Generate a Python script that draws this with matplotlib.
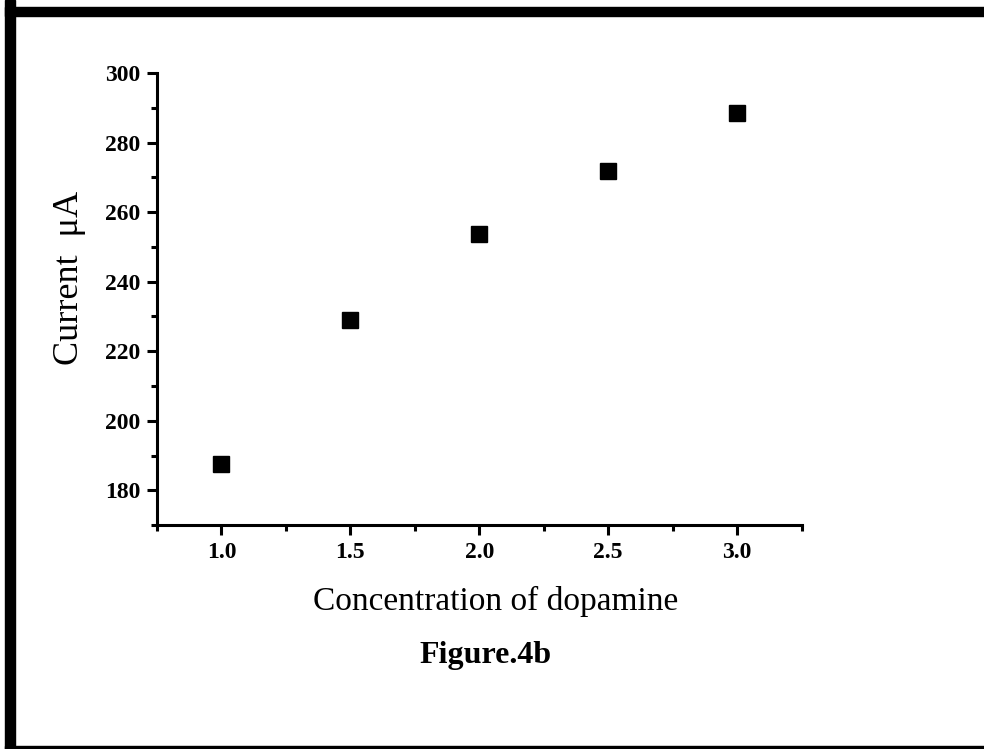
#!/usr/bin/env python3
"""
Current vs dopamine concentration (Figure.4b)
"""
import matplotlib
matplotlib.use("Agg")
import matplotlib.pyplot as plt
from matplotlib.patches import Rectangle
from matplotlib.ticker import MultipleLocator

# %% data
concentration = [1.0, 1.5, 2.0, 2.5, 3.0]
current_ua = [187.6, 229.0, 253.8, 271.7, 288.6]

xtick_labels = ["1.0", "1.5", "2.0", "2.5", "3.0"]
ytick_values = [180, 200, 220, 240, 260, 280, 300]

# %% figure
plt.rcParams["font.family"] = ["Liberation Serif", "DejaVu Serif"]

fig = plt.figure(figsize=(9.84, 7.49), dpi=100)
ax = fig.add_axes([0.1596, 0.299, 0.655, 0.6035])

ax.plot(concentration, current_ua, linestyle="none", marker="s",
        markersize=12, color="black")

ax.set_xlim(0.75, 3.25)
ax.set_ylim(170, 300)
ax.set_xticks(concentration)
ax.set_xticklabels(xtick_labels)
ax.set_yticks(ytick_values)
ax.xaxis.set_minor_locator(MultipleLocator(0.25))
ax.yaxis.set_minor_locator(MultipleLocator(10))

for spine in ["top", "right"]:
    ax.spines[spine].set_visible(False)
for spine in ["left", "bottom"]:
    ax.spines[spine].set_linewidth(2.2)

ax.tick_params(which="major", direction="out", length=7, width=2.2,
               labelsize=17, pad=5)
ax.tick_params(which="minor", direction="out", length=4, width=2.2)
for lab in ax.get_xticklabels() + ax.get_yticklabels():
    lab.set_fontweight("bold")

# y label, placed by hand
fig.text(70 / 984, 1 - 278 / 749, "Current  \u03bcA", rotation=90,
         ha="center", va="center", fontsize=26)

fig.text(496 / 984, 1 - 610 / 749, "Concentration of dopamine",
         ha="center", va="baseline", fontsize=24)
fig.text(486 / 984, 1 - 663 / 749, "Figure.4b", ha="center", va="baseline",
         fontsize=23, fontweight="bold")

# black frame round the picture
fig.patches.append(Rectangle((5 / 984, 0), 10 / 984, 1, transform=fig.transFigure,
                             color="black", zorder=10))
fig.patches.append(Rectangle((5 / 984, 1 - 16 / 749), 1, 9 / 749,
                             transform=fig.transFigure, color="black", zorder=10))
fig.patches.append(Rectangle((5 / 984, 0), 1, 3 / 749, transform=fig.transFigure,
                             color="black", zorder=10))

fig.savefig("out.png", dpi=100)
